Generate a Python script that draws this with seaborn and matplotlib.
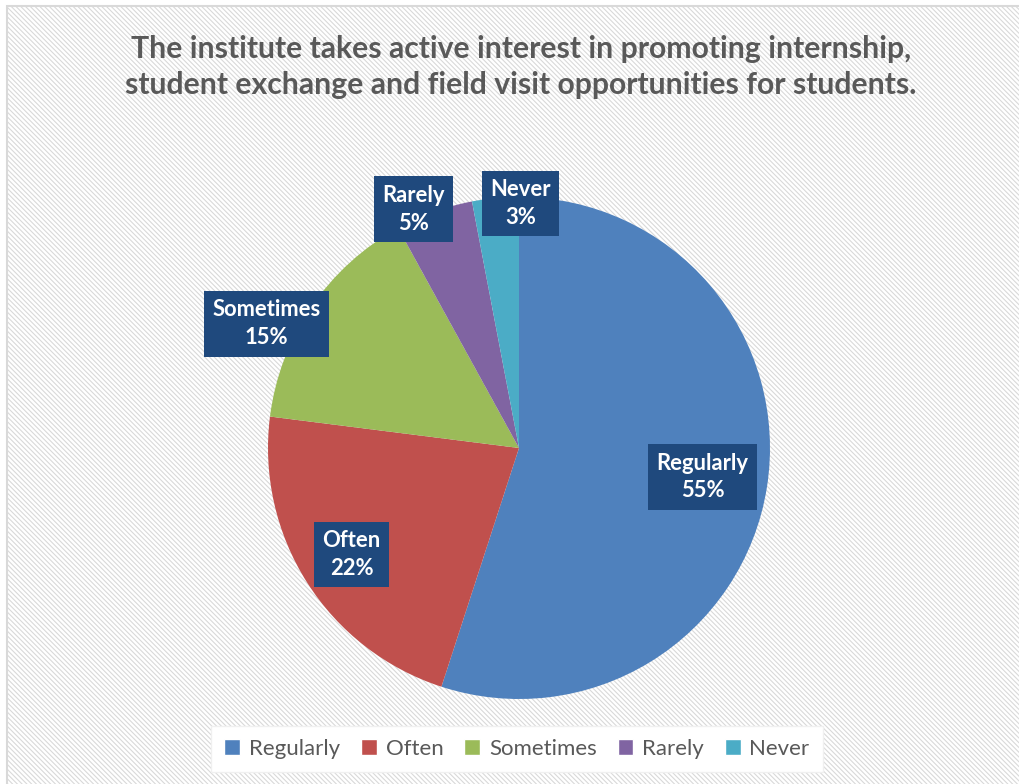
import numpy as np
import matplotlib
matplotlib.use("Agg")
import matplotlib.pyplot as plt
from matplotlib.patches import Rectangle
import seaborn as sns

categories = ["Regularly", "Often", "Sometimes", "Rarely", "Never"]
values = [55, 22, 15, 5, 3]
colors_hex = ["#4F81BD", "#C0504D", "#9BBB59", "#8064A2", "#4BACC6"]
title = ("The institute takes active interest in promoting internship,\n"
         "student exchange and field visit opportunities for students.")

sns.set_theme(style="white")
plt.rcParams['font.family'] = ['Lato', 'DejaVu Sans']
plt.rcParams['hatch.color'] = "#f0f0f0"
plt.rcParams['hatch.linewidth'] = 0.8
palette = sns.color_palette(colors_hex)

W, H = 1019, 784
fig = plt.figure(figsize=(W / 100, H / 100), dpi=100)
fig.patch.set_facecolor("white")

# background hatch panel with light border
bg = Rectangle((7 / W, -0.01), (W - 7 + 20) / W, (H - 6) / H + 0.01, transform=fig.transFigure,
               facecolor="white", edgecolor="#d9d9d9", hatch="\\" * 7, linewidth=1.5, zorder=-5)
fig.patches.append(bg)

fig.text(521 / W, 1 - 67 / H, title, ha="center", va="center", fontsize=21.7,
         fontweight="bold", color="#595959", linespacing=1.36)

# pie axes: center (519,448), radius 251 px
cx, cy, R = 519, 448, 251
ax = fig.add_axes([(cx - R) / W, 1 - (cy + R) / H, 2 * R / W, 2 * R / H], zorder=2)
ax.set_facecolor("none")
ax.patch.set_alpha(0)
wedges, _ = ax.pie(values, colors=palette, startangle=90, counterclock=False,
                   radius=1.0, wedgeprops=dict(linewidth=0))
ax.set_xlim(-1, 1)
ax.set_ylim(-1, 1)
ax.set_aspect("equal")

# label placement factors (radial, angle offset)
rad = [0.74, 0.79, 1.12, 1.04, 0.975]
dang = [0, 0, 8, 4, -5.8]
for w, cat, v, r, da in zip(wedges, categories, values, rad, dang):
    mid = np.deg2rad((w.theta1 + w.theta2) / 2 + da)
    ax.text(r * np.cos(mid), r * np.sin(mid), f"{cat}\n{v}%", ha="center", va="center",
            fontsize=15.8, fontweight="bold", color="white", linespacing=1.4,
            bbox=dict(boxstyle="square,pad=0.38", facecolor="#1F497D", edgecolor="none"),
            zorder=5, clip_on=False)

handles = [Rectangle((0, 0), 1, 1, facecolor=c) for c in palette]
leg = fig.legend(handles, categories, loc="center", bbox_to_anchor=(517 / W, 1 - 749 / H),
                 ncol=5, frameon=True, fontsize=16, handlelength=0.7, handleheight=0.7,
                 handletextpad=0.4, columnspacing=0.95, borderpad=0.3)
leg.get_frame().set_facecolor("white")
leg.get_frame().set_edgecolor("#f0f0f0")
leg.get_frame().set_alpha(1)
leg.get_frame().set_boxstyle("square", pad=0.3)
for t in leg.get_texts():
    t.set_color("#595959")

fig.savefig("out.png", dpi=100)
